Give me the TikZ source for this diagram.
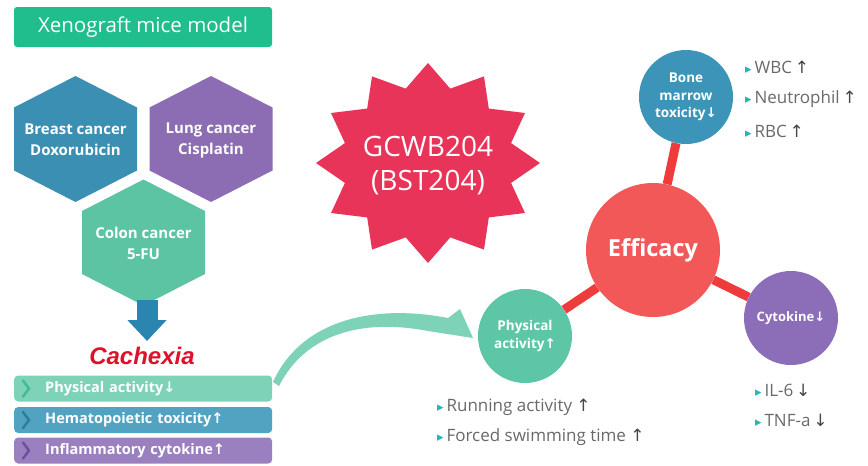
\documentclass[tikz,border=0pt]{standalone}
\usepackage{fontspec}
\setmainfont{Open Sans}
\newfontfamily\arrowfont{DejaVu Sans}
\newfontfamily\cachfont{Liberation Sans}
\usetikzlibrary{arrows.meta,positioning}

\definecolor{titlegreen}{RGB}{31,190,140}
\definecolor{hexblue}{RGB}{58,143,178}
\definecolor{hexpurple}{RGB}{140,108,178}
\definecolor{hexmint}{RGB}{92,196,162}
\definecolor{arrblue}{RGB}{42,134,174}
\definecolor{cachred}{RGB}{222,16,42}
\definecolor{barmint}{RGB}{125,210,184}
\definecolor{barblue}{RGB}{82,163,194}
\definecolor{barpurple}{RGB}{155,128,192}
\definecolor{chevmint}{RGB}{70,185,150}
\definecolor{chevblue}{RGB}{45,125,160}
\definecolor{chevpurple}{RGB}{112,80,158}
\definecolor{starred}{RGB}{233,52,90}
\definecolor{effred}{RGB}{242,88,88}
\definecolor{linkred}{RGB}{238,60,60}
\definecolor{boneblue}{RGB}{60,149,184}
\definecolor{cytopurple}{RGB}{140,109,184}
\definecolor{physmint}{RGB}{92,198,166}
\definecolor{bulletteal}{RGB}{38,181,181}
\definecolor{textgrey}{RGB}{105,105,105}
\definecolor{arrgrey}{RGB}{70,70,70}

\newcommand\uparr{{\arrowfont ↑}}
\newcommand\dnarr{{\arrowfont ↓}}
\newcommand\bul{{\arrowfont\color{bulletteal}\fontsize{13}{13}\selectfont ▸}\,}

\begin{document}
\begin{tikzpicture}[x=1pt,y=-1pt,
  every node/.style={inner sep=0pt},
  hexlabel/.style={text=white,align=center,font=\bfseries\fontsize{15}{21}\selectfont},
  bar/.style={anchor=west,rounded corners=4pt,minimum height=26pt,text width=196pt,
    inner xsep=31pt,align=left,text=white,font=\bfseries\fontsize{14.5}{17}\selectfont},
  chev/.style={line width=2.5pt,line cap=round,line join=round},
  bubble/.style={circle,minimum size=94pt,text=white,align=center,
    font=\bfseries\fontsize{13.5}{17.5}\selectfont},
  link/.style={linkred,line width=9pt},
  item/.style={anchor=west,text=textgrey,font=\fontsize{17}{20}\selectfont},
  downarr/.style={arrblue,line width=21pt,-{Triangle[length=21pt,width=38pt]}},
]
\useasboundingbox (0,0) rectangle (868,466);

% left column
\node[fill=titlegreen,rounded corners=3pt,minimum width=258pt,minimum height=40pt,
  text=white,font=\fontsize{20.5}{24}\selectfont] (title) at (143,27) {Xenograft mice model};

\foreach \nm/\cx/\cy/\col/\txt in {
    breast/75.5/139/hexblue/{Breast cancer\\Doxorubicin},
    lung/211/139/hexpurple/{Lung cancer\\Cisplatin},
    colon/143.5/242.5/hexmint/{Colon cancer\\5-FU}}{
  \fill[\col] (\cx,\cy) ++(0,-63) -- ++(61.5,31.5) -- ++(0,63) -- ++(-61.5,31.5)
    -- ++(-61.5,-31.5) -- ++(0,-63) -- cycle;
  \node[hexlabel] (\nm) at (\cx,\cy+1) {\txt};
}

\node[text=cachred,font=\cachfont\bfseries\itshape\fontsize{24}{28}\selectfont] (cachexia) at (142,356) {Cachexia};
\coordinate (arrtop) at (147,300);
\coordinate (arrtip) at (147,341);
\draw[downarr] (arrtop) -- (arrtip);

\node[bar,fill=barmint] (bar1) at (14,388.5) {Physical activity\dnarr};
\node[bar,fill=barblue] (bar2) at (14,420) {Hematopoietic toxicity\uparr};
\node[bar,fill=barpurple] (bar3) at (14,450.5) {Inflammatory cytokine\uparr};
\foreach \b/\c in {bar1/chevmint,bar2/chevblue,bar3/chevpurple}
  \draw[chev,\c] ([xshift=9pt,yshift=8pt]\b.west) -- ++(6,8) -- ++(-6,8);

% curved arrow
\fill[barmint] (273,382) .. controls (300,322) and (370,303) .. (448,318) -- (460,309)
  -- (473,338) -- (428,331) .. controls (360,318) and (305,335) .. (279,386) -- cycle;

% drug
\begin{scope}[shift={(428,163)}]
  \fill[starred] (0:112 and 100) \foreach \a in {0,30,...,330}{ -- (\a:112 and 100) -- ({\a+15}:86 and 77) } -- cycle;
\end{scope}
\node[text=white,align=center,font=\fontsize{28}{34}\selectfont] (drug) at (428,166) {GCWB204\\(BST204)};

% efficacy
\node[bubble,fill=effred,minimum size=134pt,font=\bfseries\fontsize{23.5}{28}\selectfont] (eff) at (653,250) {Efficacy};
\node[bubble,fill=boneblue] (bone) at (686,97) {Bone\\marrow\\toxicity\dnarr};
\node[bubble,fill=cytopurple,font=\bfseries\fontsize{13}{16}\selectfont] (cyto) at (791,318) {Cytokine\dnarr};
\node[bubble,fill=physmint] (phys) at (525,336) {Physical\\activity\uparr};
\draw[link] (eff) -- (bone);
\draw[link] (eff) -- (cyto);
\draw[link] (eff) -- (phys);

% results
\node[item] (wbc) at (745,67) {\bul WBC\,{\color{arrgrey}\uparr}};
\node[item] (neut) [below=32pt of wbc.west,anchor=west] {\bul Neutrophil\,{\color{arrgrey}\uparr}};
\node[item] (rbc) [below=32pt of neut.west,anchor=west] {\bul RBC\,{\color{arrgrey}\uparr}};
\node[item] (il6) at (755,390) {\bul IL-6\,{\color{arrgrey}\dnarr}};
\node[item] (tnf) [below=30pt of il6.west,anchor=west] {\bul TNF-a\,{\color{arrgrey}\dnarr}};
\node[item] (run) at (437,407) {\bul Running activity {\color{arrgrey}\uparr}};
\node[item] (swim) [below=30pt of run.west,anchor=west] {\bul Forced swimming time {\color{arrgrey}\uparr}};
\end{tikzpicture}
\end{document}
